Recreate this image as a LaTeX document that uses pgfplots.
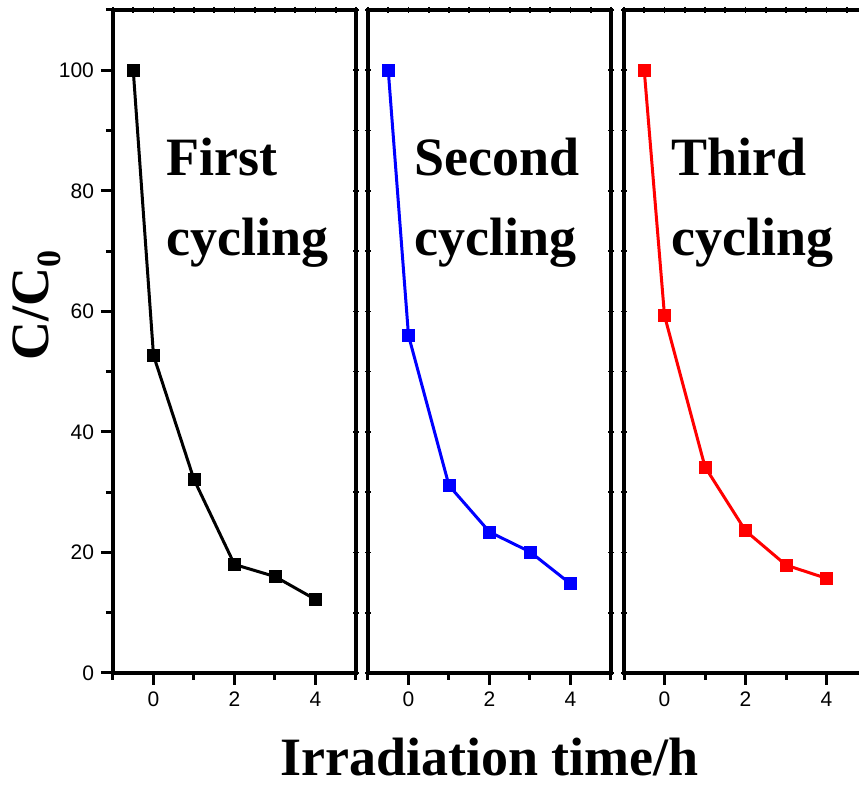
\documentclass[border=0pt]{standalone}
\usepackage{fontspec}
\setmainfont{Liberation Sans}
\newfontfamily\tnr{Liberation Serif}
\usepackage{pgfplots}
\usepackage{pgfplotstable}
\pgfplotsset{compat=1.18}

\pgfplotstableread{
x y
-0.5 100
0 52.7
1 32.1
2 18.0
3 16.0
4 12.2
}\first
\pgfplotstableread{
x y
-0.5 100
0 56.0
1 31.1
2 23.4
3 20.1
4 14.8
}\second
\pgfplotstableread{
x y
-0.5 100
0 59.3
1 34.2
2 23.6
3 17.9
4 15.7
}\third

\tikzset{lab/.style={font=\tnr\bfseries\fontsize{27}{30}\selectfont, anchor=base west, inner sep=0pt}}

\pgfplotsset{
  panel/.style={
    scale only axis, width=121.5pt, height=331.5pt,
    xmin=-1, xmax=5, ymin=0, ymax=110,
    axis line style={line width=2pt},
    tick align=outside, xtick pos=left, ytick pos=left,
    xtick={0,2,4}, minor xtick={-1,1,3,5},
    major tick length=6pt, minor tick length=3.5pt,
    major tick style={black, line width=1.5pt},
    minor tick style={black, line width=1.5pt},
    tick label style={font=\fontsize{10.5}{12}\selectfont},
    /pgf/number format/assume math mode=true,
    clip=false,
  },
  mirror/.style={
    scale only axis, width=121.5pt, height=331.5pt,
    xmin=-1, xmax=5, ymin=0, ymax=110,
    axis line style={draw=none},
    tick align=center, xtick pos=right,
    xtick={-1,-0.5,...,5}, ytick={0,10,...,110},
    xticklabels={}, yticklabels={},
    major tick length=3pt,
    major tick style={black, line width=0.8pt},
  },
  series/.style={color=#1, line width=1.5pt, mark=square*, mark size=3pt,
    mark options={solid, line width=0.3pt}},
}

\begin{document}
\begin{tikzpicture}
\useasboundingbox (0,0) rectangle (429.5pt,392.5pt);
\clip (0,0) rectangle (429.5pt,392.5pt);

% Panel 1
\begin{axis}[mirror, at={(56.5pt,56pt)}, anchor=south west, ytick pos=right]
\end{axis}
\begin{axis}[panel, at={(56.5pt,56pt)}, anchor=south west,
  ytick={0,20,...,100}, minor ytick={10,30,...,110},
  ylabel={C/C\raisebox{-0.22em}{\fontsize{17}{17}\selectfont 0}},
  ylabel style={font=\tnr\bfseries\fontsize{27}{30}\selectfont,
    at={(axis description cs:-0.313,0.555)}, anchor=center}]
\addplot[series=black] table[x=x,y=y] {\first};
\node[lab] at (axis cs:0.32,82.6) {First};
\node[lab] at (axis cs:0.32,69.2) {cycling};
\end{axis}

% Panel 2
\begin{axis}[mirror, at={(184pt,56pt)}, anchor=south west, ytick pos=both]
\end{axis}
\begin{axis}[panel, at={(184pt,56pt)}, anchor=south west,
  ytick=\empty,
  xlabel={Irradiation time/h},
  xlabel style={font=\tnr\bfseries\fontsize{27}{30}\selectfont,
    at={(axis description cs:0.5,-0.155)}, anchor=base}]
\addplot[series=blue] table[x=x,y=y] {\second};
\node[lab] at (axis cs:0.14,82.6) {Second};
\node[lab] at (axis cs:0.14,69.2) {cycling};
\end{axis}

% Panel 3
\begin{axis}[mirror, at={(312pt,56pt)}, anchor=south west, ytick pos=both]
\end{axis}
\begin{axis}[panel, at={(312pt,56pt)}, anchor=south west,
  ytick=\empty]
\addplot[series=red] table[x=x,y=y] {\third};
\node[lab] at (axis cs:0.17,82.6) {Third};
\node[lab] at (axis cs:0.17,69.2) {cycling};
\end{axis}
\end{tikzpicture}
\end{document}
